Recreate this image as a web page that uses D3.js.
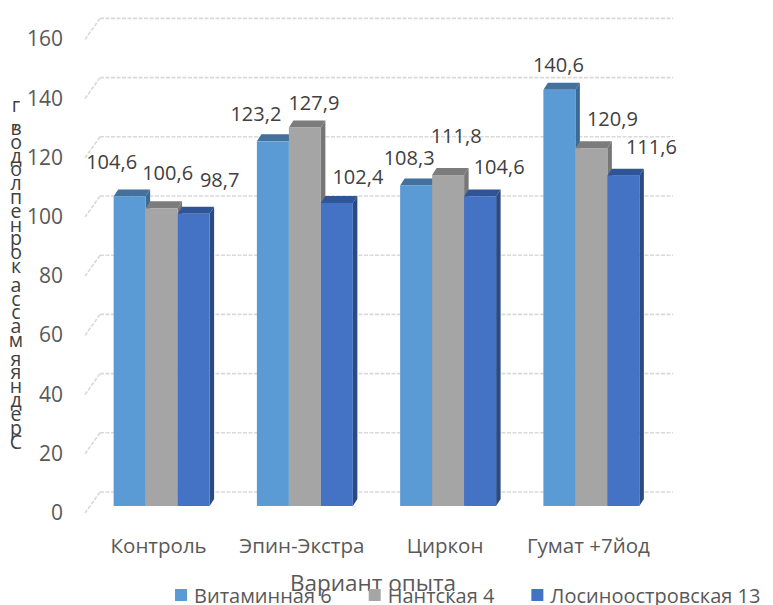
<!DOCTYPE html>
<html lang="ru">
<head>
<meta charset="UTF-8">
<title>Средняя масса корнеплодов</title>
<script src="https://d3js.org/d3.v7.min.js"></script>
<style>
    body { margin: 0; background: #fff; }
    text { font-family: 'Open Sans', sans-serif; }
    .tick-label { font-size: 21px; fill: #595959; }
    .cat-label { font-size: 20.5px; fill: #595959; }
    .value-label { font-size: 20px; fill: #404040; }
    .legend-label { font-size: 20px; fill: #595959; }
</style>
</head>
<body>
<svg id="chart" width="773" height="605"></svg>
<script>
    // данные
    const categories = ["Контроль", "Эпин-Экстра", "Циркон", "Гумат +7йод"];
    const seriesNames = ["Витаминная 6", "Нантская 4", "Лосиноостровская 13"];
    const vitaminnaya = [104.6, 123.2, 108.3, 140.6];
    const nantskaya = [100.6, 127.9, 111.8, 120.9];
    const losinoostrovskaya = [98.7, 102.4, 104.6, 111.6];
    const yTicks = [0, 20, 40, 60, 80, 100, 120, 140, 160];
    const xTitle = "Вариант опыта";
    const yTitle = "Средняя масса корнеплодов, г";

    const seriesValues = [vitaminnaya, nantskaya, losinoostrovskaya];

    // цвета: лицевая грань, верх, бок
    const colors = [
        { front: "#5b9bd5", top: "#41719c", side: "#3a6a96" },
        { front: "#a5a5a5", top: "#7c7c7c", side: "#767676" },
        { front: "#4472c4", top: "#2f5597", side: "#2b4a80" }
    ];

    // сдвиг подписей относительно верха столбика (как в Excel)
    const labelDx = [[-18, -17, -7, -1], [6, 9, 8, 21], [26, 21, 19, 28]];
    const labelDy = [[-35, -28, -28, -25], [-36, -25, -40, -30], [-34, -26, -30, -29]];

    const svg = d3.select("#chart");

    // передняя плоскость столбиков
    const y = d3.scaleLinear().domain([0, 160]).range([506, 32.4]);
    const x0 = d3.scaleBand().domain(categories).range([90, 663])
        .paddingInner(0.33).paddingOuter(0.165);
    const x1 = d3.scaleBand().domain(d3.range(seriesNames.length)).range([0, x0.bandwidth()]);

    // смещения глубины
    const wallDx = 10, wallDy = -14;     // задняя стенка
    const floorDx = -15, floorDy = 21;   // от задней стенки к переднему краю
    const depthDx = 4.5, depthDy = -7;   // глубина столбика

    // сетка на задней стенке
    const grid = svg.append("g");
    yTicks.forEach(t => {
        const yb = y(t) + wallDy;
        const xl = x0.range()[0] + wallDx;
        const xr = x0.range()[1] + wallDx;
        grid.append("line")
            .attr("x1", xl).attr("x2", xr).attr("y1", yb).attr("y2", yb)
            .attr("stroke", "#d9d9d9").attr("stroke-width", 1.6)
            .attr("stroke-dasharray", "4 1.5");
        grid.append("line")
            .attr("x1", xl).attr("y1", yb)
            .attr("x2", xl + floorDx).attr("y2", yb + floorDy)
            .attr("stroke", "#d9d9d9").attr("stroke-width", 1.6)
            .attr("stroke-dasharray", "4 1.5");
        svg.append("text")
            .attr("class", "tick-label")
            .attr("x", 63)
            .attr("y", yb + 20)
            .attr("text-anchor", "end")
            .attr("dominant-baseline", "central")
            .text(t);
    });

    // столбики (псевдо-3D)
    const bars = svg.append("g");
    categories.forEach((cat, ci) => {
        seriesValues.forEach((vals, si) => {
            const v = vals[ci];
            const xl = x0(cat) + x1(si);
            const xr = xl + x1.bandwidth();
            const yt = y(v);
            const yb = y(0);
            const c = colors[si];
            bars.append("polygon")
                .attr("points", `${xr},${yt} ${xr + depthDx},${yt + depthDy} ${xr + depthDx},${yb + depthDy} ${xr},${yb}`)
                .attr("fill", c.side);
            bars.append("polygon")
                .attr("points", `${xl},${yt} ${xl + depthDx},${yt + depthDy} ${xr + depthDx},${yt + depthDy} ${xr},${yt}`)
                .attr("fill", c.top);
            bars.append("rect")
                .attr("x", xl).attr("y", yt)
                .attr("width", x1.bandwidth()).attr("height", yb - yt)
                .attr("fill", c.front);
        });
    });

    // подписи значений
    categories.forEach((cat, ci) => {
        seriesValues.forEach((vals, si) => {
            const v = vals[ci];
            svg.append("text")
                .attr("class", "value-label")
                .attr("x", x0(cat) + x1(si) + x1.bandwidth() / 2 + labelDx[si][ci])
                .attr("y", y(v) + labelDy[si][ci])
                .attr("text-anchor", "middle")
                .attr("dominant-baseline", "central")
                .text(String(v).replace(".", ","));
        });
    });

    // подписи категорий
    categories.forEach(cat => {
        svg.append("text")
            .attr("class", "cat-label")
            .attr("x", x0(cat) + x0.bandwidth() / 2 - 3)
            .attr("y", 545)
            .attr("text-anchor", "middle")
            .attr("dominant-baseline", "central")
            .text(cat);
    });

    // название оси X
    svg.append("text")
        .attr("x", 373).attr("y", 582)
        .attr("text-anchor", "middle")
        .attr("dominant-baseline", "central")
        .style("font-size", "22.5px").style("fill", "#595959")
        .text(xTitle);

    // название оси Y: буквы столбиком снизу вверх, пробелы и запятая узкие
    const chars = Array.from(yTitle);
    const weights = chars.map(ch => (ch === " " || ch === ",") ? 0.35 : 1);
    const cum = [0];
    for (let i = 1; i < chars.length; i++) cum.push(cum[i - 1] + (weights[i - 1] + weights[i]) / 2);
    const yTitleScale = d3.scaleLinear().domain([0, cum[cum.length - 1]]).range([441, 104]);
    chars.forEach((ch, i) => {
        if (ch === " ") return;
        svg.append("text")
            .attr("x", 16)
            .attr("y", yTitleScale(cum[i]))
            .attr("text-anchor", "middle")
            .attr("dominant-baseline", "central")
            .style("font-size", "19.5px").style("fill", "#404040")
            .text(ch);
    });

    // легенда
    const legend = svg.append("g");
    let lx = 175;
    seriesNames.forEach((name, si) => {
        legend.append("rect")
            .attr("x", lx).attr("y", 589)
            .attr("width", 12).attr("height", 12)
            .attr("fill", colors[si].front);
        const t = legend.append("text")
            .attr("class", "legend-label")
            .attr("x", lx + 19).attr("y", 595)
            .attr("dominant-baseline", "central")
            .text(name);
        lx += 19 + t.node().getComputedTextLength() + 37;
    });
</script>
</body>
</html>
